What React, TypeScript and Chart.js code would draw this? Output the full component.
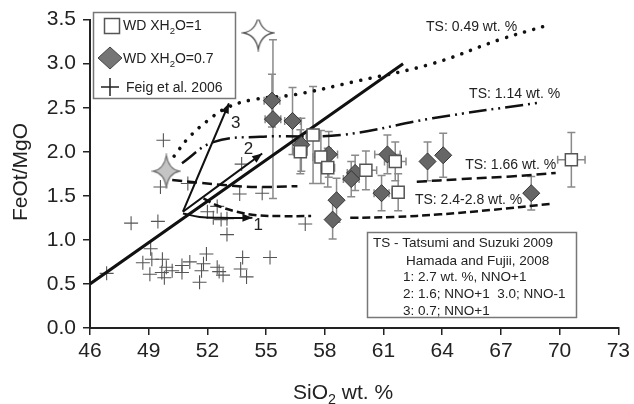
import React, { useEffect, useRef } from 'react';
import { Chart, registerables } from 'chart.js';

Chart.register(...registerables);

// ---------- axes ----------
const xTickValues = [46, 49, 52, 55, 58, 61, 64, 67, 70, 73];
const yTickValues = [0, 0.5, 1.0, 1.5, 2.0, 2.5, 3.0, 3.5];

// ---------- WD XH2O = 1 (white squares) ----------
const wd1X = [56.75, 57.4, 57.8, 58.15, 60.1, 61.6, 61.75, 70.6];
const wd1Y = [2.0, 2.19, 1.94, 1.82, 1.79, 1.89, 1.54, 1.91];
const wd1XErr = [0.35, 0.35, 0.4, 0.35, 0.55, 0.55, 0.3, 0.7];
const wd1YErr = [0.25, 0.55, 0.3, 0.22, 0.22, 0.22, 0.21, 0.31];

// ---------- WD XH2O = 0.7 (grey diamonds) ----------
const wd07X = [55.3, 55.35, 56.35, 56.8, 58.2, 59.55, 59.35, 58.6, 58.4, 60.9, 61.2, 63.25, 64.05, 68.55];
const wd07Y = [2.58, 2.37, 2.35, 2.08, 1.97, 1.76, 1.69, 1.45, 1.23, 1.53, 1.97, 1.89, 1.96, 1.53];
const wd07XErr = [0.4, 0.4, 0.4, 0.3, 0.45, 0.4, 0.4, 0, 0, 0.38, 0.65, 0, 0, 0];
const wd07YErr = [0.3, 0.9, 0.38, 0.3, 0.26, 0.2, 0.2, 0.25, 0.22, 0.2, 0.22, 0.22, 0.25, 0.19];

// ---------- Feig et al. 2006 (crosses) ----------
const feigX = [46.85, 48.1, 49.47, 49.1, 48.7, 49.16, 49.06, 49.7, 49.67, 49.9, 49.8, 50.2, 50.7, 50.7, 51.1,
  51.7, 51.6, 51.8, 51.95, 52.5, 52.6, 52.8, 53.0, 53.7, 53.8, 54.0, 55.2, 52.0, 52.3, 52.7, 53.0, 52.5, 57.0,
  49.6, 53.75, 53.65, 54.8, 49.75, 51.0];
const feigY = [0.62, 1.19, 1.21, 0.9, 0.74, 0.78, 0.61, 0.78, 0.63, 0.69, 0.57, 0.65, 0.63, 0.71, 0.75,
  0.65, 0.52, 0.73, 0.84, 0.69, 0.64, 0.6, 1.06, 0.67, 0.8, 0.58, 0.8, 1.32, 1.25, 1.23, 1.24, 1.38, 1.18,
  1.6, 1.86, 1.52, 1.53, 2.13, 1.64];

// ---------- stars ----------
const whiteStarX = [54.6];
const whiteStarY = [3.35];
const greyStarX = [49.9];
const greyStarY = [1.78];

// ---------- trend line ----------
const trendX = [46, 62];
const trendY = [0.5, 3.0];

// ---------- Tatsumi & Suzuki 2009 curves ----------
const ts049X = [50.3, 51.0, 52.0, 53.0, 54.3, 56.5, 59.4, 63.5, 66.9, 69.3];
const ts049Y = [1.95, 2.15, 2.35, 2.5, 2.59, 2.65, 2.79, 3.0, 3.27, 3.43];
const ts114X = [50.7, 52.3, 54.7, 58.8, 63.5, 69.0];
const ts114Y = [1.87, 2.11, 2.17, 2.19, 2.38, 2.56];
const ts166LX = [50.2, 51.5, 53.0, 54.5, 56.6];
const ts166LY = [1.68, 1.65, 1.62, 1.6, 1.61];
const ts166RX = [62.7, 65.0, 67.5, 69.8];
const ts166RY = [1.66, 1.69, 1.72, 1.76];
const ts248LX = [51.8, 52.5, 53.5, 54.5, 55.8, 57.3];
const ts248LY = [1.47, 1.39, 1.32, 1.28, 1.27, 1.27];
const ts248RX = [59.3, 61.5, 63.9, 66.5, 69.6];
const ts248RY = [1.25, 1.26, 1.29, 1.34, 1.41];

// ---------- Hamada & Fujii 2008 arrows ----------
const arrow1X = [50.75, 51.6, 52.6, 54.3];
const arrow1Y = [1.3, 1.26, 1.25, 1.25];
const arrow2X = [50.75, 54.8];
const arrow2Y = [1.32, 1.98];
const arrow3X = [50.75, 53.1];
const arrow3Y = [1.32, 2.55];

const FONT = '"Liberation Sans", Arial, Helvetica, sans-serif';

const pts = (xs: number[], ys: number[]) => xs.map((x, i) => ({ x, y: ys[i] }));

function makeStar(rx: number, ry: number, fill: string, stroke: string) {
  const c = document.createElement('canvas');
  const w = Math.ceil(rx * 2 + 4);
  const h = Math.ceil(ry * 2 + 4);
  c.width = w;
  c.height = h;
  const g = c.getContext('2d')!;
  g.translate(w / 2, h / 2);
  const k = 2.2;
  g.beginPath();
  g.moveTo(0, -ry);
  g.quadraticCurveTo(k, -k, rx, 0);
  g.quadraticCurveTo(k, k, 0, ry);
  g.quadraticCurveTo(-k, k, -rx, 0);
  g.quadraticCurveTo(-k, -k, 0, -ry);
  g.closePath();
  g.fillStyle = fill;
  g.fill();
  g.lineWidth = 1.3;
  g.strokeStyle = stroke;
  g.stroke();
  return c;
}

function drawRich(ctx: CanvasRenderingContext2D, parts: [string, boolean][], x: number, y: number, size: number) {
  let cx = x;
  for (const [t, sub] of parts) {
    const s = sub ? size * 0.68 : size;
    ctx.font = `${s}px ${FONT}`;
    ctx.fillText(t, cx, sub ? y + size * 0.25 : y);
    cx += ctx.measureText(t).width;
  }
}

const lineDs = (label: string, xs: number[], ys: number[], width: number, dash: number[], cap: CanvasLineCap = 'butt') => ({
  label,
  data: pts(xs, ys),
  showLine: true,
  pointRadius: 0,
  borderColor: '#111',
  backgroundColor: '#111',
  borderWidth: width,
  borderDash: dash,
  borderCapStyle: cap,
  tension: 0.4,
  fill: false,
});

export default function App() {
  const ref = useRef<HTMLCanvasElement>(null);

  useEffect(() => {
    document.body.style.margin = '0';
    const canvas = ref.current!;
    Chart.defaults.font.family = FONT;

    const whiteStar = makeStar(15, 17, '#ffffff', '#555');
    const greyStar = makeStar(13, 16, '#c4c4c4', '#777');

    const overlay = {
      id: 'overlay',
      beforeDatasetsDraw(chart: any) {
        const ctx = chart.ctx as CanvasRenderingContext2D;
        const xs = chart.scales.x;
        const ys = chart.scales.y;
        ctx.save();
        ctx.strokeStyle = '#8a8a8a';
        ctx.lineWidth = 1.5;
        const bars = (X: number[], Y: number[], XE: number[], YE: number[]) => {
          X.forEach((xv, i) => {
            const px = xs.getPixelForValue(xv);
            const py = ys.getPixelForValue(Y[i]);
            const cap = 4;
            if (YE[i] > 0) {
              const t = ys.getPixelForValue(Y[i] + YE[i]);
              const b = ys.getPixelForValue(Y[i] - YE[i]);
              ctx.beginPath();
              ctx.moveTo(px, t); ctx.lineTo(px, b);
              ctx.moveTo(px - cap, t); ctx.lineTo(px + cap, t);
              ctx.moveTo(px - cap, b); ctx.lineTo(px + cap, b);
              ctx.stroke();
            }
            if (XE[i] > 0) {
              const l = xs.getPixelForValue(xv - XE[i]);
              const r = xs.getPixelForValue(xv + XE[i]);
              ctx.beginPath();
              ctx.moveTo(l, py); ctx.lineTo(r, py);
              ctx.moveTo(l, py - cap); ctx.lineTo(l, py + cap);
              ctx.moveTo(r, py - cap); ctx.lineTo(r, py + cap);
              ctx.stroke();
            }
          });
        };
        bars(wd07X, wd07Y, wd07XErr, wd07YErr);
        bars(wd1X, wd1Y, wd1XErr, wd1YErr);
        ctx.restore();
      },
      afterDraw(chart: any) {
        const ctx = chart.ctx as CanvasRenderingContext2D;
        const xs = chart.scales.x;
        const ys = chart.scales.y;
        const P = (x: number, y: number) => [xs.getPixelForValue(x), ys.getPixelForValue(y)];
        ctx.save();

        // arrowheads
        chart.data.datasets.forEach((ds: any, i: number) => {
          if (!ds.arrow) return;
          const meta = chart.getDatasetMeta(i);
          const n = meta.data.length;
          const a = meta.data[n - 2];
          const b = meta.data[n - 1];
          const ang = Math.atan2(b.y - a.y, b.x - a.x);
          const L = 10, W = 4;
          ctx.fillStyle = '#111';
          ctx.beginPath();
          ctx.moveTo(b.x, b.y);
          ctx.lineTo(b.x - L * Math.cos(ang) + W * Math.sin(ang), b.y - L * Math.sin(ang) - W * Math.cos(ang));
          ctx.lineTo(b.x - L * Math.cos(ang) - W * Math.sin(ang), b.y - L * Math.sin(ang) + W * Math.cos(ang));
          ctx.closePath();
          ctx.fill();
        });

        // curve labels
        ctx.fillStyle = '#222';
        ctx.textAlign = 'center';
        ctx.textBaseline = 'middle';
        ctx.font = `14px ${FONT}`;
        const lab = (t: string, x: number, y: number) => {
          const [px, py] = P(x, y);
          ctx.fillText(t, px, py);
        };
        lab('TS: 0.49 wt. %', 65.5, 3.41);
        lab('TS: 1.14 wt. %', 67.7, 2.656);
        lab('TS: 1.66 wt. %', 67.5, 1.846);
        lab('TS: 2.4-2.8 wt. %', 65.35, 1.452);
        ctx.font = `17px ${FONT}`;
        lab('1', 54.6, 1.17);
        lab('2', 54.1, 2.03);
        lab('3', 53.45, 2.32);

        // legend box 1
        ctx.fillStyle = '#fff';
        ctx.fillRect(93.5, 12.5, 142, 86);
        ctx.strokeStyle = '#777';
        ctx.lineWidth = 1.5;
        ctx.strokeRect(93.5, 12.5, 142, 86);
        // square
        ctx.fillStyle = '#fff';
        ctx.strokeStyle = '#555';
        ctx.lineWidth = 1.5;
        ctx.fillRect(104.5, 18.5, 15, 15);
        ctx.strokeRect(104.5, 18.5, 15, 15);
        // diamond
        ctx.beginPath();
        ctx.moveTo(110, 47); ctx.lineTo(122, 58); ctx.lineTo(110, 69); ctx.lineTo(98, 58);
        ctx.closePath();
        ctx.fillStyle = '#757575';
        ctx.fill();
        ctx.strokeStyle = '#444';
        ctx.lineWidth = 1;
        ctx.stroke();
        // plus
        ctx.strokeStyle = '#222';
        ctx.lineWidth = 1.5;
        ctx.beginPath();
        ctx.moveTo(101, 87); ctx.lineTo(119, 87);
        ctx.moveTo(110, 78); ctx.lineTo(110, 96);
        ctx.stroke();
        ctx.fillStyle = '#222';
        ctx.textAlign = 'left';
        ctx.textBaseline = 'alphabetic';
        drawRich(ctx, [['WD XH', false], ['2', true], ['O=1', false]], 123, 30, 14);
        drawRich(ctx, [['WD XH', false], ['2', true], ['O=0.7', false]], 123, 63, 14);
        drawRich(ctx, [['Feig et al. 2006', false]], 126, 92, 14);

        // legend box 2
        ctx.fillStyle = '#fff';
        ctx.fillRect(367.5, 232.5, 209, 85);
        ctx.strokeStyle = '#777';
        ctx.lineWidth = 1.5;
        ctx.strokeRect(367.5, 232.5, 209, 85);
        ctx.fillStyle = '#222';
        ctx.textBaseline = 'middle';
        ctx.font = `13.5px ${FONT}`;
        ctx.fillText('TS - Tatsumi and Suzuki 2009', 373, 243);
        ctx.fillText('Hamada and Fujii, 2008', 406, 261);
        ctx.fillText('1: 2.7 wt. %, NNO+1', 403, 277);
        ctx.fillText('2: 1.6; NNO+1  3.0; NNO-1', 403, 294);
        ctx.fillText('3: 0.7; NNO+1', 403, 311);

        // axis titles
        ctx.fillStyle = '#222';
        ctx.textBaseline = 'alphabetic';
        ctx.textAlign = 'left';
        drawRich(ctx, [['SiO', false], ['2', true], [' wt. %', false]], 293, 399, 21);
        ctx.save();
        ctx.translate(27, 172);
        ctx.rotate(-Math.PI / 2);
        ctx.textAlign = 'center';
        ctx.font = `21px ${FONT}`;
        ctx.fillText('FeOt/MgO', 0, 0);
        ctx.restore();

        ctx.restore();
      },
    };

    const chart = new Chart(canvas, {
      type: 'scatter',
      data: {
        datasets: [
          {
            label: 'WD XH2O=1',
            data: pts(wd1X, wd1Y),
            pointStyle: 'rect',
            pointRadius: 8.5,
            pointBackgroundColor: '#fff',
            pointBorderColor: '#555',
            pointBorderWidth: 1.5,
          },
          {
            label: 'WD XH2O=0.7',
            data: pts(wd07X, wd07Y),
            pointStyle: 'rectRot',
            pointRadius: 8.5,
            pointBackgroundColor: '#666',
            pointBorderColor: '#333',
            pointBorderWidth: 1,
          },
          {
            label: 'star white',
            data: pts(whiteStarX, whiteStarY),
            pointStyle: whiteStar,
            pointRadius: 5,
          },
          {
            label: 'star grey',
            data: pts(greyStarX, greyStarY),
            pointStyle: greyStar,
            pointRadius: 5,
          },
          { ...lineDs('arrow 1', arrow1X, arrow1Y, 2, []), arrow: true },
          { ...lineDs('arrow 2', arrow2X, arrow2Y, 2, []), arrow: true },
          { ...lineDs('arrow 3', arrow3X, arrow3Y, 2, []), arrow: true },
          lineDs('trend', trendX, trendY, 3, []),
          lineDs('TS 0.49', ts049X, ts049Y, 3.6, [0.01, 9.5], 'round'),
          lineDs('TS 1.14', ts114X, ts114Y, 2.5, [18, 5, 2, 5, 2, 5]),
          lineDs('TS 1.66 a', ts166LX, ts166LY, 2.5, [10, 5]),
          lineDs('TS 1.66 b', ts166RX, ts166RY, 2.5, [10, 5]),
          lineDs('TS 2.4-2.8 a', ts248LX, ts248LY, 2.5, [8, 4]),
          lineDs('TS 2.4-2.8 b', ts248RX, ts248RY, 2.5, [8, 4]),
          {
            label: 'Feig et al. 2006',
            data: pts(feigX, feigY),
            pointStyle: 'cross',
            pointRadius: 7,
            pointBorderColor: '#555',
            pointBorderWidth: 1.1,
          },
        ] as any,
      },
      options: {
        responsive: false,
        animation: false,
        devicePixelRatio: 1,
        layout: { padding: { top: 17, right: 15, bottom: 0, left: 0 } },
        plugins: { legend: { display: false }, tooltip: { enabled: false } },
        scales: {
          x: {
            type: 'linear',
            min: 46,
            max: 73,
            afterBuildTicks: (s: any) => { s.ticks = xTickValues.map((v) => ({ value: v })); },
            afterFit: (s: any) => { s.height = 76; },
            ticks: { font: { size: 21 }, color: '#222', padding: 4, callback: (v: any) => String(v) },
            grid: { drawOnChartArea: false, drawTicks: true, tickLength: 7, color: '#222', lineWidth: 1.5 },
            border: { display: true, color: '#222', width: 2 },
          },
          y: {
            type: 'linear',
            min: 0,
            max: 3.5,
            afterBuildTicks: (s: any) => { s.ticks = yTickValues.map((v) => ({ value: v })); },
            afterFit: (s: any) => { s.width = 90; },
            ticks: { font: { size: 21 }, color: '#222', padding: 7, callback: (v: any) => Number(v).toFixed(1) },
            grid: { drawOnChartArea: false, drawTicks: true, tickLength: 7, color: '#222', lineWidth: 1.5 },
            border: { display: true, color: '#222', width: 2 },
          },
        },
      } as any,
      plugins: [overlay],
    });

    return () => chart.destroy();
  }, []);

  return (
    <div style={{ width: 634, height: 404 }}>
      <canvas ref={ref} width={634} height={404} style={{ display: 'block', width: 634, height: 404 }} />
    </div>
  );
}
